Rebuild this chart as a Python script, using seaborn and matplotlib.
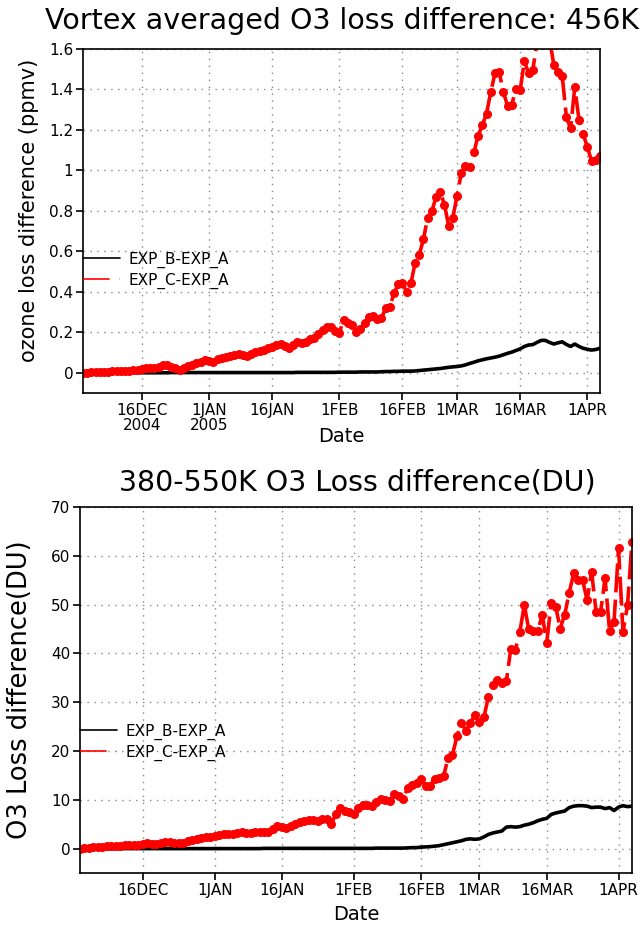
import numpy as np
import pandas as pd
import seaborn as sns
import matplotlib.pyplot as plt
from matplotlib.lines import Line2D

# -------------------------------
# Data (daily, 2 Dec 2004 - 4 Apr 2005)
# -------------------------------
dates = pd.date_range("2004-12-02", "2005-04-04", freq="D")

# top panel: vortex averaged O3 loss difference at 456K (ppmv)
top_b = [0.000] * 21 + [0.001] * 30 + [0.002] * 10 + [0.003] * 5 + [0.004] * 5 + [
    0.005, 0.006, 0.006, 0.007, 0.007, 0.008, 0.008, 0.008, 0.009, 0.011,
    0.013, 0.015, 0.017, 0.019, 0.021, 0.024, 0.027, 0.029, 0.031, 0.034,
    0.039, 0.046, 0.052, 0.059, 0.064, 0.069, 0.073, 0.077, 0.082, 0.089,
    0.096, 0.102, 0.110, 0.118, 0.130, 0.137, 0.139, 0.150, 0.160, 0.160,
    0.150, 0.142, 0.148, 0.153, 0.140, 0.130, 0.142, 0.130, 0.121, 0.116,
    0.112, 0.115, 0.121]
top_c = [
    0.000, 0.001, 0.002, 0.003, 0.004, 0.005, 0.006, 0.007, 0.008, 0.009,
    0.010, 0.011, 0.012, 0.014, 0.020, 0.025, 0.024, 0.022, 0.030, 0.036,
    0.038, 0.030, 0.022, 0.015, 0.025, 0.035, 0.040, 0.046, 0.055, 0.063,
    0.060, 0.055, 0.068, 0.075, 0.080, 0.084, 0.090, 0.093, 0.088, 0.083,
    0.095, 0.104, 0.110, 0.112, 0.120, 0.129, 0.135, 0.142, 0.130, 0.121,
    0.135, 0.150, 0.145, 0.152, 0.165, 0.170, 0.190, 0.211, 0.225, 0.228,
    0.205, 0.198, 0.261, 0.245, 0.236, 0.203, 0.215, 0.245, 0.277, 0.280,
    0.264, 0.270, 0.319, 0.327, 0.393, 0.437, 0.442, 0.401, 0.442, 0.541,
    0.583, 0.660, 0.767, 0.797, 0.871, 0.895, 0.830, 0.726, 0.767, 0.876,
    0.987, 1.023, 1.015, 1.089, 1.172, 1.223, 1.281, 1.386, 1.479, 1.487,
    1.388, 1.320, 1.325, 1.403, 1.395, 1.540, 1.482, 1.495, 1.630, 1.680,
    1.700, 1.650, 1.523, 1.485, 1.469, 1.264, 1.208, 1.411, 1.251, 1.180,
    1.114, 1.048, 1.053, 1.073]

# bottom panel: 380-550K column O3 loss difference (DU)
bot_b = [0.0] * 41 + [0.05] * 25 + [0.1] * 7 + [
    0.15, 0.2, 0.2, 0.3, 0.35, 0.4, 0.5, 0.6, 0.8, 1.0,
    1.2, 1.4, 1.6, 1.9, 2.0, 1.9, 2.0, 2.4, 2.9, 3.2,
    3.4, 3.6, 4.4, 4.5, 4.4, 4.5, 4.8, 5.0, 5.3, 5.7,
    6.0, 6.2, 7.0, 7.3, 7.5, 7.7, 8.4, 8.7, 8.8, 8.8,
    8.7, 8.4, 8.5, 8.5, 8.2, 8.4, 7.8, 8.5, 8.8, 8.6,
    8.7]
bot_c = [
    0.0, 0.1, 0.2, 0.3, 0.4, 0.4, 0.5, 0.5, 0.6, 0.6,
    0.7, 0.7, 0.8, 0.8, 0.9, 1.1, 1.0, 0.9, 1.2, 1.4,
    1.3, 1.2, 1.1, 1.2, 1.5, 1.7, 1.9, 2.1, 2.3, 2.4,
    2.6, 2.7, 2.9, 3.0, 2.9, 3.1, 3.3, 3.2, 3.2, 3.4,
    3.5, 3.5, 3.4, 4.0, 4.7, 4.5, 4.2, 4.6, 5.0, 5.4,
    5.6, 5.9, 5.8, 5.6, 6.0, 6.1, 5.1, 7.0, 8.3, 7.8,
    7.5, 7.0, 8.3, 9.0, 8.9, 8.8, 9.5, 10.2, 10.0, 9.7,
    11.2, 10.8, 10.2, 12.4, 13.0, 13.4, 14.3, 12.9, 12.9, 14.3,
    14.5, 14.8, 18.5, 19.2, 23.0, 25.7, 24.2, 25.8, 27.4, 26.0,
    26.9, 31.1, 33.6, 34.6, 34.0, 34.3, 41.0, 40.7, 44.4, 49.9,
    44.9, 44.6, 44.6, 47.9, 42.2, 50.4, 49.6, 45.1, 47.9, 52.4,
    56.4, 55.0, 55.0, 50.9, 56.7, 48.5, 48.5, 55.4, 44.6, 46.5,
    61.5, 44.4, 49.9, 62.8]

tick_dates = pd.to_datetime(["2004-12-16", "2005-01-01", "2005-01-16", "2005-02-01",
                             "2005-02-16", "2005-03-01", "2005-03-16", "2005-04-01"])
tick_labels_top = ["16DEC\n2004", "1JAN\n2005", "16JAN", "1FEB", "16FEB", "1MAR", "16MAR", "1APR"]
tick_labels_bot = ["16DEC", "1JAN", "16JAN", "1FEB", "16FEB", "1MAR", "16MAR", "1APR"]
legend_labels = ["EXP_B-EXP_A", "EXP_C-EXP_A"]

df = pd.DataFrame({"date": dates, "top_b": top_b, "top_c": top_c,
                   "bot_b": bot_b, "bot_c": bot_c})

# -------------------------------
# Figure
# -------------------------------
sns.set_style("white")
plt.rcParams["font.family"] = ["DejaVu Sans"]
plt.rcParams["text.color"] = "black"
plt.rcParams["axes.labelcolor"] = "black"
plt.rcParams["xtick.color"] = "black"
plt.rcParams["ytick.color"] = "black"

fig = plt.figure(figsize=(6.44, 9.26), dpi=100)
ax1 = fig.add_axes([83 / 644, 1 - 393 / 926, 517 / 644, 344 / 926])
ax2 = fig.add_axes([80 / 644, 1 - 873 / 926, 552 / 644, 366 / 926])

red_dash = (0, (8, 2))


def draw_panel(ax, col_b, col_c, ylim, yticks, ytick_labels, xlabels,
               ylabel, ylabel_size, xlabel_y, ylabel_xy):
    sns.lineplot(data=df, x="date", y=col_b, ax=ax, color="black", lw=2.6, legend=False)
    sns.lineplot(data=df, x="date", y=col_c, ax=ax, color="#ff0000", lw=2.6,
                 linestyle=red_dash, marker="o", markersize=6.5, markeredgewidth=0,
                 legend=False)
    ax.set_xlim(dates[0], dates[-1])
    ax.set_ylim(*ylim)
    ax.set_yticks(yticks)
    ax.set_yticklabels(ytick_labels, fontsize=11)
    ax.set_xticks(tick_dates)
    ax.set_xticklabels(xlabels, fontsize=11, linespacing=1.0)
    ax.tick_params(axis="both", direction="out", length=5, width=1.2, pad=2,
                   bottom=True, left=True)
    ax.grid(True, color="#888888", linestyle=(0, (1, 4)), linewidth=1)
    for s in ax.spines.values():
        s.set_color("black")
        s.set_linewidth(1.2)
    ax.set_xlabel("Date", fontsize=14)
    ax.xaxis.set_label_coords(0.5, xlabel_y)
    ax.set_ylabel(ylabel, fontsize=ylabel_size)
    ax.yaxis.set_label_coords(*ylabel_xy)

    handles = [Line2D([], [], color="black", lw=1.2),
               Line2D([], [], color="#ff0000", lw=1.2, linestyle=(0, (16, 6)))]
    ax.legend(handles, legend_labels, loc="center left", bbox_to_anchor=(0, 0.357),
              frameon=False, fontsize=11, handlelength=2.4, handletextpad=0.6,
              labelspacing=0.3, borderpad=0, borderaxespad=0)


draw_panel(ax1, "top_b", "top_c", (-0.1, 1.6),
           [0, 0.2, 0.4, 0.6, 0.8, 1.0, 1.2, 1.4, 1.6],
           ["0", "0.2", "0.4", "0.6", "0.8", "1", "1.2", "1.4", "1.6"],
           tick_labels_top, "ozone loss difference (ppmv)", 15, -0.1, (-0.085, 0.53))
draw_panel(ax2, "bot_b", "bot_c", (-5, 70),
           [0, 10, 20, 30, 40, 50, 60, 70],
           ["0", "10", "20", "30", "40", "50", "60", "70"],
           tick_labels_bot, "O3 Loss difference(DU)", 18.5, -0.087, (-0.085, 0.5))

fig.text(342 / 644, 1 - 21 / 926, "Vortex averaged O3 loss difference: 456K",
         ha="center", va="center", fontsize=20.5)
fig.text(357 / 644, 1 - 483 / 926, "380-550K O3 Loss difference(DU)",
         ha="center", va="center", fontsize=20.5)

fig.savefig("out.png", dpi=100)
